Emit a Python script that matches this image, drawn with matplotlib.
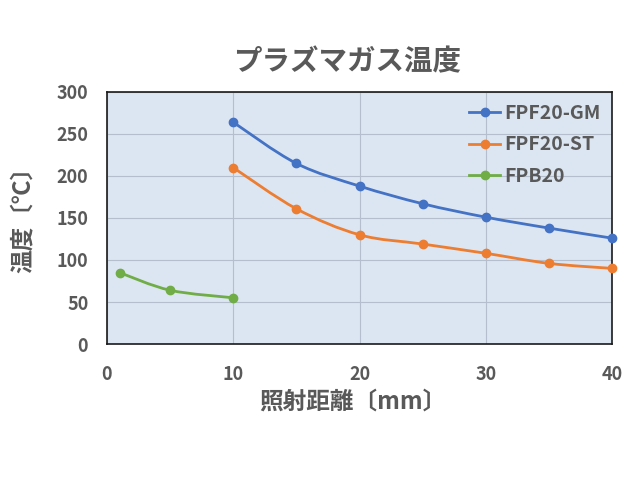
import numpy as np
import matplotlib
matplotlib.use("Agg")
import matplotlib.pyplot as plt
from matplotlib.path import Path
from matplotlib.patches import PathPatch
from matplotlib.lines import Line2D

plt.rcParams['font.family'] = ['Noto Sans CJK JP', 'DejaVu Sans']

# data
dist_gm = [10, 15, 20, 25, 30, 35, 40]
temp_gm = [264, 215, 188, 167, 151, 138, 126]
dist_st = [10, 15, 20, 25, 30, 35, 40]
temp_st = [210, 161, 130, 119, 108, 96, 90]
dist_pb = [1, 5, 10]
temp_pb = [85, 64, 55]
series_names = ['FPF20-GM', 'FPF20-ST', 'FPB20']
colors = ['#4472C4', '#ED7D31', '#70AD47']

text_color = '#595959'


def smooth_path(xs, ys):
    # Excel-like smoothed line: cubic Bezier segments through the points
    pts = np.column_stack([xs, ys]).astype(float)
    n = len(pts)
    verts = [pts[0]]
    codes = [Path.MOVETO]
    for i in range(n - 1):
        p0 = pts[i - 1] if i > 0 else pts[i]
        p1 = pts[i]
        p2 = pts[i + 1]
        p3 = pts[i + 2] if i + 2 < n else pts[i + 1]
        c1 = p1 + (p2 - p0) / 6.0
        c2 = p2 - (p3 - p1) / 6.0
        verts += [c1, c2, p2]
        codes += [Path.CURVE4] * 3
    return Path(verts, codes)


fig = plt.figure(figsize=(6.42, 4.84), dpi=100)
ax = fig.add_axes([107 / 642, 1 - 344 / 484, (612 - 107) / 642, (344 - 92) / 484])
ax.set_facecolor('#DCE6F2')

all_series = [(dist_gm, temp_gm), (dist_st, temp_st), (dist_pb, temp_pb)]
handles = []
for (xs, ys), name, c in zip(all_series, series_names, colors):
    ax.add_patch(PathPatch(smooth_path(xs, ys), facecolor='none', edgecolor=c,
                           lw=2.0, zorder=3, capstyle='round'))
    ax.plot(xs, ys, 'o', color=c, ms=6, zorder=4, clip_on=False)
    handles.append(Line2D([], [], color=c, lw=2.0, marker='o', ms=6))

ax.set_xlim(0, 40)
ax.set_ylim(0, 300)
ax.set_xticks([0, 10, 20, 30, 40])
ax.set_yticks(range(0, 301, 50))
ax.grid(True, color='#B4BECC', lw=0.8)
ax.set_axisbelow(True)
for s in ax.spines.values():
    s.set_color('#1A1A1A')
    s.set_linewidth(1.2)
ax.tick_params(length=0, labelsize=13, labelcolor=text_color)
ax.tick_params(axis='x', pad=15)
ax.tick_params(axis='y', pad=13.5)
for lab in ax.get_xticklabels() + ax.get_yticklabels():
    lab.set_fontweight('bold')

leg = ax.legend(handles, series_names, loc='upper right', frameon=False,
                handlelength=1.6, handletextpad=0.2, labelspacing=0.65,
                borderaxespad=0.2, prop={'size': 14, 'weight': 'bold'})
for t in leg.get_texts():
    t.set_color(text_color)

fig.text(347 / 642, 1 - 62 / 484, 'プラズマガス温度', ha='center', va='center',
         fontsize=20.5, fontweight='bold', color=text_color)
fig.text(353 / 642, 1 - 402 / 484, '照射距離〔mm〕', ha='center', va='center',
         fontsize=17, fontweight='bold', color=text_color)
fig.text(23 / 642, 1 - 214 / 484, '温度〔℃〕', ha='center', va='center',
         rotation=90, fontsize=17, fontweight='bold', color=text_color)

fig.savefig('out.png', dpi=100, facecolor='white')
